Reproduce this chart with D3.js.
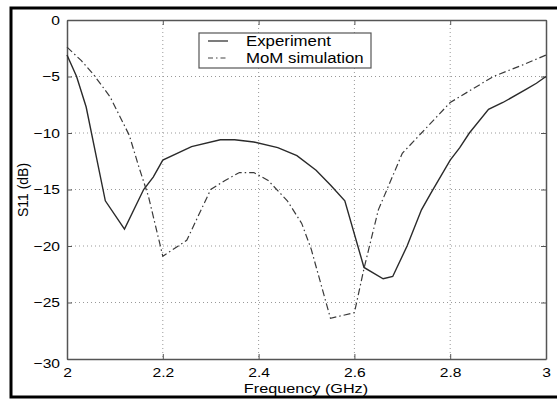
<!DOCTYPE html>
<html>
<head>
<meta charset="utf-8">
<script src="https://cdn.jsdelivr.net/npm/d3@7"></script>
<style>
  body { margin: 0; background: #fff; }
  text { font-family: "Liberation Sans", Arial, sans-serif; fill: #000; }
</style>
</head>
<body>
<script>
// S11 vs frequency, experiment vs MoM simulation
const expFreq = [2.0, 2.02, 2.04, 2.08, 2.12, 2.16, 2.18, 2.2, 2.26, 2.32, 2.35, 2.39, 2.44, 2.48, 2.52, 2.55, 2.58, 2.62, 2.66, 2.68, 2.71, 2.74, 2.76, 2.8, 2.82, 2.84, 2.88, 2.91, 2.96, 2.98, 3.0];
const expS11 = [-3.1, -5.0, -7.7, -16.0, -18.5, -15.0, -13.9, -12.4, -11.2, -10.6, -10.6, -10.8, -11.3, -12.0, -13.3, -14.6, -16.0, -21.9, -22.9, -22.7, -20.0, -16.8, -15.3, -12.4, -11.3, -10.0, -7.9, -7.3, -6.1, -5.6, -5.0];

const simFreq = [2.0, 2.03, 2.055, 2.09, 2.13, 2.15, 2.17, 2.2, 2.25, 2.3, 2.33, 2.36, 2.39, 2.42, 2.46, 2.49, 2.51, 2.55, 2.6, 2.62, 2.65, 2.7, 2.74, 2.8, 2.89, 2.95, 3.0];
const simS11 = [-2.4, -3.6, -4.8, -6.8, -10.2, -13.0, -15.6, -20.9, -19.5, -15.0, -14.2, -13.5, -13.5, -14.2, -16.0, -18.0, -20.3, -26.4, -25.9, -22.0, -16.8, -11.8, -10.0, -7.3, -5.0, -4.0, -3.1];

const xTicks = [2, 2.2, 2.4, 2.6, 2.8, 3];
const yTicks = [0, -5, -10, -15, -20, -25, -30];
const seriesNames = ['Experiment', 'MoM simulation'];

const W = 557, H = 401;
const margin = { left: 67, right: 11, top: 20, bottom: 42 };
const width = W - margin.left - margin.right;
const height = H - margin.top - margin.bottom;
const STRETCH = 1.2; // the scanned figure is wider than tall

// widen horizontal text like the source picture
function stretch(sel) {
  sel.each(function () {
    const len = this.getComputedTextLength();
    if (len > 0) {
      d3.select(this)
        .attr('textLength', len * STRETCH)
        .attr('lengthAdjust', 'spacingAndGlyphs');
    }
  });
}

const root = d3.select('body').append('svg')
  .attr('width', W)
  .attr('height', H);

// outer frame
root.append('rect')
  .attr('x', 11).attr('y', 8)
  .attr('width', 560).attr('height', 389)
  .attr('fill', 'none')
  .attr('stroke', '#000')
  .attr('stroke-width', 3);

const svg = root.append('g')
  .attr('transform', `translate(${margin.left}, ${margin.top})`);

const x = d3.scaleLinear().domain([2, 3]).range([0, width]);
const y = d3.scaleLinear().domain([-30, 0]).range([height, 0]);

// dotted grid
svg.append('g')
  .selectAll('line')
  .data(xTicks.slice(1, -1))
  .enter().append('line')
  .attr('x1', d => x(d)).attr('x2', d => x(d))
  .attr('y1', 0).attr('y2', height)
  .attr('stroke', '#999')
  .attr('stroke-dasharray', '1,3');

svg.append('g')
  .selectAll('line')
  .data(yTicks.slice(1, -1))
  .enter().append('line')
  .attr('x1', 0).attr('x2', width)
  .attr('y1', d => y(d)).attr('y2', d => y(d))
  .attr('stroke', '#999')
  .attr('stroke-dasharray', '1,3');

// axes, ticks inward on all sides
function styleAxis(g) {
  g.select('.domain').attr('stroke', '#555').attr('stroke-width', 1.5);
  g.selectAll('.tick line').attr('stroke', '#555');
  g.selectAll('.tick text')
    .style('font-family', '"Liberation Sans", Arial, sans-serif')
    .style('font-size', '13px')
    .attr('fill', '#000');
}

const fmt = d => (d < 0 ? '\u2212' + Math.abs(d) : String(d));

const xAxisG = svg.append('g')
  .attr('transform', `translate(0, ${height})`)
  .call(d3.axisBottom(x).tickValues(xTicks).tickFormat(fmt).tickSizeInner(-5).tickSizeOuter(0).tickPadding(9))
  .call(styleAxis);
xAxisG.selectAll('.tick text').call(stretch);

svg.append('g')
  .call(d3.axisTop(x).tickValues(xTicks).tickFormat('').tickSizeInner(-5).tickSizeOuter(0))
  .call(styleAxis);

const yAxisG = svg.append('g')
  .call(d3.axisLeft(y).tickValues(yTicks).tickFormat(fmt).tickSizeInner(-5).tickSizeOuter(0).tickPadding(7))
  .call(styleAxis);
yAxisG.selectAll('.tick text').call(stretch);
// the bottom label sits a little low, as in the source
yAxisG.selectAll('.tick text').filter(d => d === -30).attr('dy', '0.65em');

svg.append('g')
  .attr('transform', `translate(${width}, 0)`)
  .call(d3.axisRight(y).tickValues(yTicks).tickFormat('').tickSizeInner(-5).tickSizeOuter(0))
  .call(styleAxis);

// lines
const line = d3.line()
  .x(d => x(d[0]))
  .y(d => y(d[1]));

const expData = expFreq.map((f, i) => [f, expS11[i]]);
const simData = simFreq.map((f, i) => [f, simS11[i]]);

svg.append('path')
  .datum(expData)
  .attr('d', line)
  .attr('fill', 'none')
  .attr('stroke', '#2a2a2a')
  .attr('stroke-width', 1.4);

svg.append('path')
  .datum(simData)
  .attr('d', line)
  .attr('fill', 'none')
  .attr('stroke', '#3a3a3a')
  .attr('stroke-width', 1.2)
  .attr('stroke-dasharray', '7,3,1.5,3');

// legend
const leg = root.append('g').attr('transform', 'translate(199, 33)');
leg.append('rect')
  .attr('width', 172).attr('height', 35)
  .attr('fill', '#fff')
  .attr('stroke', '#555')
  .attr('stroke-width', 1.2);

const legStyles = [{ dash: null, w: 1.4 }, { dash: '5,3,1.5,3', w: 1.2 }];
seriesNames.forEach((name, i) => {
  const yy = 8 + i * 17;
  leg.append('line')
    .attr('x1', 9).attr('x2', 29)
    .attr('y1', yy).attr('y2', yy)
    .attr('stroke', '#444')
    .attr('stroke-width', legStyles[i].w)
    .attr('stroke-dasharray', legStyles[i].dash);
  leg.append('text')
    .attr('x', 47).attr('y', yy + 5)
    .style('font-size', '14px')
    .text(name)
    .call(stretch);
});

// axis titles
root.append('text')
  .attr('x', 306)
  .attr('y', 393)
  .attr('text-anchor', 'middle')
  .style('font-size', '13.5px')
  .text('Frequency (GHz)')
  .call(stretch);

root.append('text')
  .attr('transform', `translate(28, 190) rotate(-90)`)
  .attr('text-anchor', 'middle')
  .style('font-size', '14px')
  .text('S11 (dB)');
</script>
</body>
</html>
